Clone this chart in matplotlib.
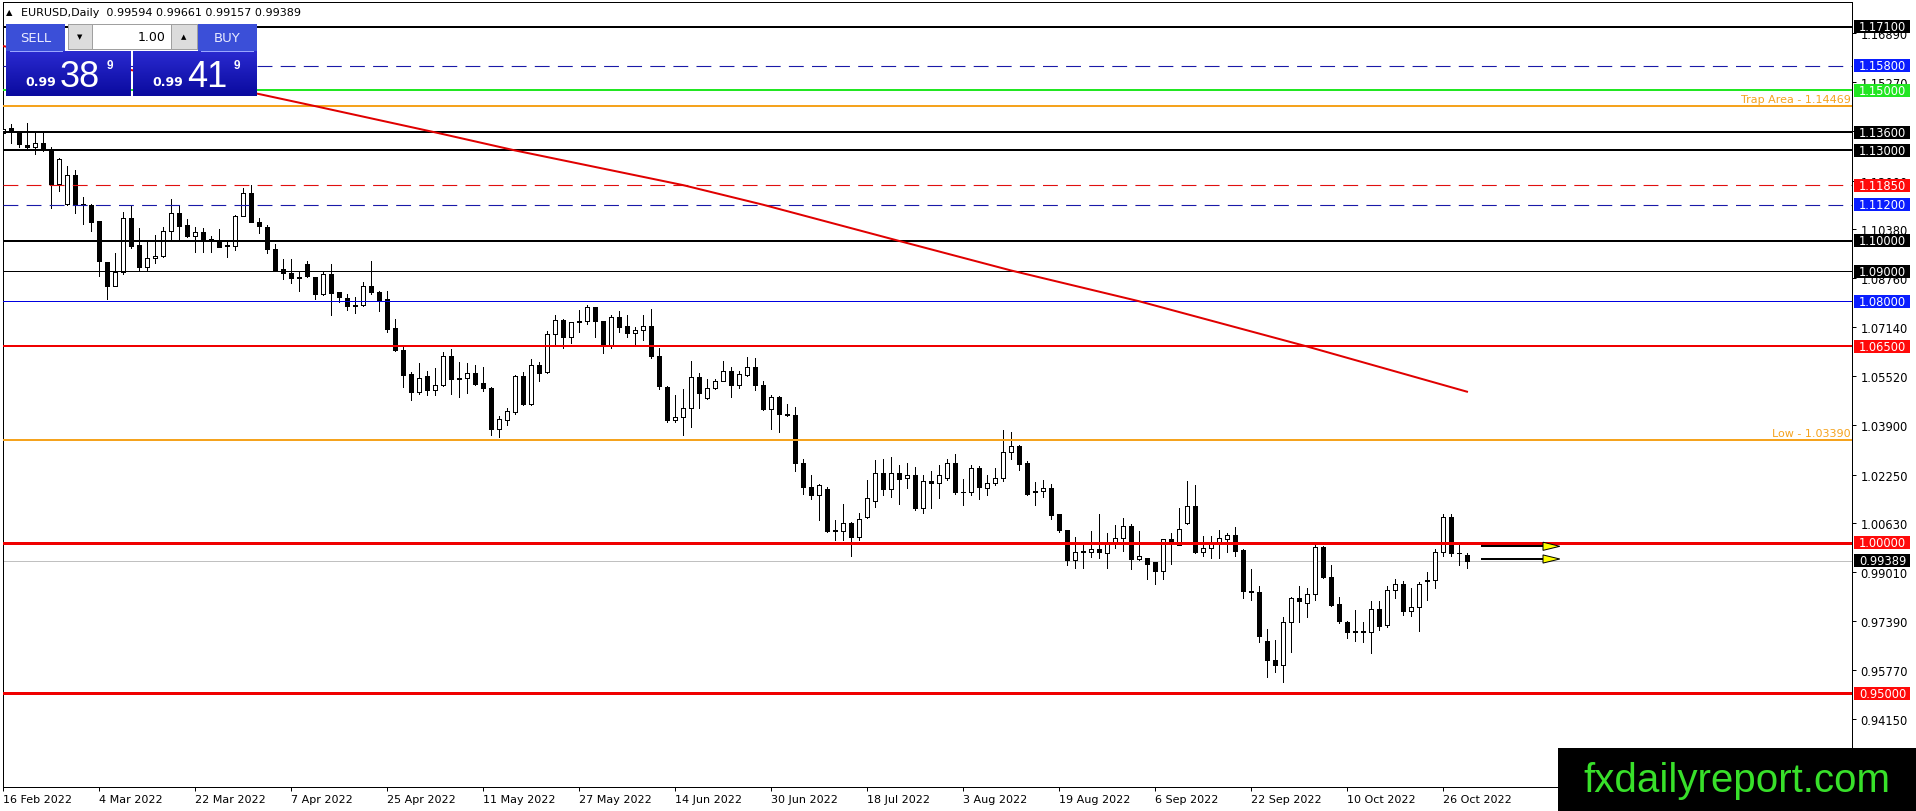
import numpy as np
import pandas as pd
import matplotlib
matplotlib.use("Agg")
import matplotlib.pyplot as plt
from matplotlib.patches import Rectangle, Polygon
from matplotlib.colors import LinearSegmentedColormap

# ---------------- data ----------------
symbol = "EURUSD,Daily"
first_day = "2022-02-16"

opens = [1.1357, 1.1373, 1.1362, 1.1319, 1.1310, 1.1324, 1.1299, 1.1190, 1.1122, 1.1218,
         1.1122, 1.1118, 1.1065, 1.0929, 1.0852, 1.0896, 1.1075, 1.0987, 1.0912, 1.0943,
         1.0950, 1.1032, 1.1092, 1.1053, 1.1017, 1.1028, 1.1006, 1.0999, 1.0986, 1.0982,
         1.1084, 1.1158, 1.1064, 1.1045, 1.0973, 1.0907, 1.0894, 1.0879, 1.0924, 1.0879,
         1.0824, 1.0891, 1.0829, 1.0810, 1.0784, 1.0786, 1.0852, 1.0832, 1.0808, 1.0711,
         1.0639, 1.0559, 1.0499, 1.0552, 1.0507, 1.0523, 1.0620, 1.0543, 1.0545, 1.0563,
         1.0530, 1.0513, 1.0377, 1.0405, 1.0432, 1.0551, 1.0460, 1.0587, 1.0565, 1.0692,
         1.0738, 1.0681, 1.0730, 1.0736, 1.0780, 1.0733, 1.0653, 1.0747, 1.0719, 1.0695,
         1.0705, 1.0717, 1.0618, 1.0517, 1.0405, 1.0416, 1.0446, 1.0548, 1.0480, 1.0512,
         1.0535, 1.0567, 1.0521, 1.0554, 1.0581, 1.0521, 1.0441, 1.0482, 1.0426, 1.0424,
         1.0265, 1.0184, 1.0159, 1.0179, 1.0043, 1.0038, 1.0066, 1.0017, 1.0083, 1.0138,
         1.0229, 1.0179, 1.0231, 1.0214, 1.0223, 1.0116, 1.0204, 1.0198, 1.0214, 1.0262,
         1.0166, 1.0168, 1.0247, 1.0181, 1.0198, 1.0214, 1.0300, 1.0320, 1.0262, 1.0166,
         1.0171, 1.0181, 1.0093, 1.0041, 0.9941, 0.9971, 0.9967, 0.9977, 0.9966, 1.0002,
         1.0015, 1.0055, 0.9945, 0.9947, 0.9934, 0.9905, 1.0010, 0.9993, 1.0066, 1.0121,
         0.9967, 0.9982, 1.0000, 1.0013, 1.0026, 0.9975, 0.9839, 0.9837, 0.9674, 0.9612,
         0.9594, 0.9737, 0.9817, 0.9801, 0.9828, 0.9986, 0.9886, 0.9795, 0.9737, 0.9704,
         0.9706, 0.9704, 0.9781, 0.9726, 0.9842, 0.9861, 0.9773, 0.9787, 0.9872, 0.9875,
         0.9969, 1.0085, 0.9966, 0.99594]
highs = [1.1395, 1.1387, 1.1365, 1.1391, 1.1365, 1.1360, 1.1310, 1.1274, 1.1247, 1.1235,
         1.1145, 1.1122, 1.1065, 1.0931, 1.0960, 1.1095, 1.1120, 1.1042, 1.0998, 1.1020,
         1.1047, 1.1139, 1.1117, 1.1073, 1.1045, 1.1042, 1.1017, 1.1040, 1.1001, 1.1086,
         1.1174, 1.1185, 1.1075, 1.1054, 1.0990, 1.0940, 1.0940, 1.0896, 1.0932, 1.0881,
         1.0896, 1.0923, 1.0831, 1.0824, 1.0813, 1.0865, 1.0935, 1.0834, 1.0835, 1.0741,
         1.0648, 1.0565, 1.0596, 1.0570, 1.0579, 1.0633, 1.0642, 1.0598, 1.0596, 1.0587,
         1.0581, 1.0515, 1.0421, 1.0446, 1.0556, 1.0565, 1.0609, 1.0598, 1.0700, 1.0753,
         1.0741, 1.0732, 1.0771, 1.0788, 1.0782, 1.0736, 1.0753, 1.0766, 1.0755, 1.0714,
         1.0753, 1.0775, 1.0644, 1.0519, 1.0488, 1.0510, 1.0603, 1.0563, 1.0543, 1.0541,
         1.0603, 1.0581, 1.0567, 1.0615, 1.0611, 1.0534, 1.0488, 1.0485, 1.0460, 1.0449,
         1.0278, 1.0225, 1.0195, 1.0184, 1.0074, 1.0126, 1.0068, 1.0099, 1.0206, 1.0273,
         1.0276, 1.0284, 1.0258, 1.0262, 1.0251, 1.0223, 1.0236, 1.0258, 1.0278, 1.0295,
         1.0212, 1.0256, 1.0254, 1.0225, 1.0247, 1.0372, 1.0367, 1.0322, 1.0269, 1.0199,
         1.0206, 1.0195, 1.0095, 1.0043, 1.0019, 0.9997, 1.0038, 1.0093, 1.0033, 1.0057,
         1.0082, 1.0060, 1.0038, 0.9950, 0.9936, 1.0013, 1.0033, 1.0115, 1.0203, 1.0190,
         1.0022, 1.0022, 1.0041, 1.0033, 1.0052, 0.9977, 0.9912, 0.9855, 0.9713, 0.9677,
         0.9754, 0.9820, 0.9856, 0.9848, 0.9997, 0.9989, 0.9927, 0.9820, 0.9739, 0.9776,
         0.9737, 0.9806, 0.9806, 0.9856, 0.9879, 0.9872, 0.9848, 0.9870, 0.9901, 0.9980,
         1.0093, 1.0096, 0.9997, 0.99661]
lows = [1.1335, 1.1326, 1.1310, 1.1306, 1.1288, 1.1299, 1.1108, 1.1167, 1.1120, 1.1092,
        1.1056, 1.1034, 1.0885, 1.0806, 1.0850, 1.0889, 1.0976, 1.0901, 1.0901, 1.0927,
        1.0948, 1.1006, 1.1001, 1.1012, 1.0962, 1.0962, 1.0962, 1.0979, 1.0946, 1.0970,
        1.1082, 1.1062, 1.1026, 1.0960, 1.0902, 1.0874, 1.0862, 1.0835, 1.0880, 1.0808,
        1.0820, 1.0755, 1.0797, 1.0770, 1.0760, 1.0784, 1.0825, 1.0769, 1.0697, 1.0635,
        1.0515, 1.0471, 1.0492, 1.0490, 1.0490, 1.0518, 1.0493, 1.0482, 1.0496, 1.0523,
        1.0501, 1.0355, 1.0350, 1.0388, 1.0427, 1.0457, 1.0457, 1.0534, 1.0563, 1.0659,
        1.0644, 1.0662, 1.0697, 1.0725, 1.0681, 1.0628, 1.0644, 1.0697, 1.0683, 1.0655,
        1.0670, 1.0611, 1.0510, 1.0401, 1.0400, 1.0357, 1.0383, 1.0446, 1.0475, 1.0510,
        1.0534, 1.0484, 1.0512, 1.0551, 1.0504, 1.0438, 1.0377, 1.0367, 1.0420, 1.0236,
        1.0162, 1.0144, 1.0074, 1.0035, 1.0008, 1.0008, 0.9956, 1.0008, 1.0080, 1.0118,
        1.0157, 1.0151, 1.0129, 1.0181, 1.0107, 1.0099, 1.0113, 1.0148, 1.0206, 1.0162,
        1.0124, 1.0157, 1.0144, 1.0159, 1.0190, 1.0203, 1.0276, 1.0240, 1.0159, 1.0124,
        1.0151, 1.0079, 1.0035, 0.9925, 0.9914, 0.9914, 0.9953, 0.9947, 0.9916, 0.9982,
        0.9971, 0.9912, 0.9941, 0.9879, 0.9864, 0.9879, 0.9930, 0.9992, 1.0060, 0.9965,
        0.9956, 0.9947, 0.9947, 0.9967, 0.9956, 0.9817, 0.9809, 0.9671, 0.9553, 0.9569,
        0.9539, 0.9638, 0.9737, 0.9754, 0.9809, 0.9881, 0.9790, 0.9732, 0.9682, 0.9673,
        0.9671, 0.9632, 0.9710, 0.9721, 0.9817, 0.9759, 0.9757, 0.9706, 0.9809, 0.9850,
        0.9955, 0.9956, 0.9927, 0.99157]
closes = [1.1372, 1.1362, 1.1320, 1.1312, 1.1324, 1.1302, 1.1190, 1.1271, 1.1218, 1.1120,
          1.1118, 1.1064, 1.0932, 1.0852, 1.0898, 1.1075, 1.0984, 1.0912, 1.0943, 1.0950,
          1.1032, 1.1092, 1.1051, 1.1017, 1.1028, 1.1001, 1.0999, 1.0981, 1.0983, 1.1084,
          1.1158, 1.1064, 1.1048, 1.0973, 1.0905, 1.0894, 1.0878, 1.0877, 1.0882, 1.0824,
          1.0889, 1.0828, 1.0813, 1.0784, 1.0787, 1.0852, 1.0832, 1.0802, 1.0708, 1.0637,
          1.0556, 1.0499, 1.0545, 1.0507, 1.0523, 1.0620, 1.0541, 1.0546, 1.0562, 1.0526,
          1.0512, 1.0377, 1.0410, 1.0436, 1.0551, 1.0460, 1.0587, 1.0562, 1.0692, 1.0738,
          1.0681, 1.0730, 1.0736, 1.0780, 1.0733, 1.0653, 1.0747, 1.0716, 1.0695, 1.0705,
          1.0717, 1.0618, 1.0518, 1.0405, 1.0416, 1.0446, 1.0548, 1.0495, 1.0512, 1.0535,
          1.0567, 1.0521, 1.0559, 1.0581, 1.0521, 1.0441, 1.0482, 1.0426, 1.0424, 1.0262,
          1.0184, 1.0159, 1.0190, 1.0038, 1.0038, 1.0063, 1.0017, 1.0079, 1.0146, 1.0229,
          1.0179, 1.0231, 1.0212, 1.0223, 1.0116, 1.0204, 1.0198, 1.0225, 1.0262, 1.0166,
          1.0168, 1.0247, 1.0184, 1.0198, 1.0214, 1.0300, 1.0320, 1.0259, 1.0162, 1.0170,
          1.0181, 1.0091, 1.0041, 0.9941, 0.9969, 0.9967, 0.9977, 0.9967, 1.0002, 1.0015,
          1.0055, 0.9945, 0.9956, 0.9930, 0.9905, 1.0010, 1.0005, 1.0046, 1.0121, 0.9967,
          0.9982, 1.0000, 1.0015, 1.0026, 0.9971, 0.9839, 0.9837, 0.9691, 0.9610, 0.9594,
          0.9737, 0.9817, 0.9806, 0.9828, 0.9986, 0.9886, 0.9792, 0.9739, 0.9704, 0.9706,
          0.9704, 0.9779, 0.9724, 0.9842, 0.9863, 0.9773, 0.9787, 0.9864, 0.9875, 0.9969,
          1.0085, 0.9964, 0.9964, 0.99389]

# moving average read at a few bars
ma_bars = [0, 32, 39, 54, 64, 85, 95, 112, 120, 126, 142, 163, 183]
ma_values = [1.1646, 1.1487, 1.1447, 1.1360, 1.1300, 1.1185, 1.1120, 1.1000,
             1.0944, 1.0902, 1.0800, 1.0650, 1.0500]

date_labels = ["16 Feb 2022", "4 Mar 2022", "22 Mar 2022", "7 Apr 2022", "25 Apr 2022",
               "11 May 2022", "27 May 2022", "14 Jun 2022", "30 Jun 2022", "18 Jul 2022",
               "3 Aug 2022", "19 Aug 2022", "6 Sep 2022", "22 Sep 2022", "10 Oct 2022",
               "26 Oct 2022"]

price_ticks = [1.16890, 1.15270, 1.13650, 1.12000, 1.10380, 1.08760, 1.07140, 1.05520,
               1.03900, 1.02250, 1.00630, 0.99010, 0.97390, 0.95770, 0.94150]

level_prices = [1.17100, 1.15800, 1.15000, 1.13600, 1.13000, 1.11850, 1.11200,
                1.10000, 1.09000, 1.08000, 1.06500, 1.00000, 0.95000]
level_kinds = ["black", "blue_dash", "green", "black", "black", "red_dash", "blue_dash",
               "black", "black_thin", "blue", "red", "red_thick", "red_thick"]

zone_prices = [1.14469, 1.03390]
zone_names = ["Trap Area", "Low"]

bid = 0.99389
ask = 0.99419
lot = "1.00"

arrow_prices = [0.99874, 0.99453]
arrow_bars = (184.75, 192.5)

# ---------------- styling ----------------
PX = 0.72  # one pixel in points at dpi 100
styles = {
    "black":      dict(color="black", lw=2 * PX, ls="-", box="black"),
    "black_thin": dict(color="black", lw=1 * PX, ls="-", box="black"),
    "blue":       dict(color="#0000e0", lw=1 * PX, ls="-", box="#0a1eff"),
    "blue_dash":  dict(color="#1a1aa8", lw=1.1 * PX, ls=(0, (13.5, 7.5)), box="#0a1eff"),
    "red":        dict(color="#f00000", lw=2 * PX, ls="-", box="#ff0a0a"),
    "red_dash":   dict(color="#e01010", lw=1.1 * PX, ls=(0, (13.5, 7.5)), box="#ff0a0a"),
    "red_thick":  dict(color="#f00000", lw=3 * PX, ls="-", box="#ff0a0a"),
    "green":      dict(color="#22e622", lw=2 * PX, ls="-", box="#22e622"),
}
ORANGE = "#f5a31e"

W, H = 1916, 812
ax_left, ax_right, ax_top, ax_bottom = 3, 1852, 3, 788
bar_px = 8
px_per_unit = 3016.0
parity_y = 543.5

fig = plt.figure(figsize=(W / 100, H / 100), dpi=100)
fig.patch.set_facecolor("white")
ax = fig.add_axes([ax_left / W, (H - ax_bottom) / H,
                   (ax_right - ax_left) / W, (ax_bottom - ax_top) / H])

n = len(closes)
x = np.arange(n)
o = np.array(opens); h = np.array(highs); l = np.array(lows); c = np.array(closes)

ax.vlines(x, l, h, color="black", linewidth=PX, zorder=2, antialiased=False)
up = c >= o
ax.bar(x, np.abs(c - o), width=0.5, bottom=np.minimum(o, c),
       color=np.where(up, "white", "black"), edgecolor="black",
       linewidth=PX, zorder=3, antialiased=False)

# horizontal levels
for p, k in zip(level_prices, level_kinds):
    st = styles[k]
    ax.axhline(p, color=st["color"], lw=st["lw"], ls=st["ls"], zorder=4)
for p, name in zip(zone_prices, zone_names):
    ax.axhline(p, color=ORANGE, lw=2 * PX, zorder=4)
    ax.text(0.9995, p + 0.0007, f"{name} - {p:.5f}", transform=ax.get_yaxis_transform(),
            ha="right", va="bottom", fontsize=8, color=ORANGE, zorder=6)
ax.axhline(bid, color="#c0c0c0", lw=PX, zorder=1)

# moving average
ax.plot(ma_bars, ma_values, color="#e00000", lw=2 * PX, zorder=5)

# arrows next to last bar
for p in arrow_prices:
    ax.plot(arrow_bars, [p, p], color="black", lw=2 * PX, zorder=6, solid_capstyle="butt")
    hx = arrow_bars[1]
    ax.add_patch(Polygon([[hx, p + 0.00135], [hx + 2.1, p], [hx, p - 0.00135]],
                         closed=True, facecolor="#ffff00", edgecolor="black",
                         lw=PX, zorder=7))

ax.set_xlim(0, (ax_right - ax_left) / bar_px)
ax.set_ylim(1 - (ax_bottom - parity_y) / px_per_unit, 1 + (parity_y - ax_top) / px_per_unit)

# axes / ticks
for s in ax.spines.values():
    s.set_linewidth(PX)
    s.set_color("black")
ax.yaxis.tick_right()
ax.set_yticks(price_ticks)
ax.set_yticklabels([f"{v:.5f}" for v in price_ticks])
ax.tick_params(axis="y", direction="out", length=3, width=PX, pad=3, labelsize=8.3)

dates = pd.bdate_range(first_day, periods=n)
tick_pos = [dates.get_loc(pd.to_datetime(d, format="%d %b %Y")) for d in date_labels]
ax.set_xticks(tick_pos)
ax.set_xticklabels(date_labels)
ax.tick_params(axis="x", direction="out", length=3, width=PX, pad=2, labelsize=8)
for lab in ax.get_xticklabels():
    lab.set_horizontalalignment("left")

# coloured price boxes on the right scale
ytr = ax.get_yaxis_transform()
span = ax_right - ax_left
bx0 = (1854 - ax_left) / span
bw = 56 / span
bh = 13 / px_per_unit
tx = (1859 - ax_left) / span
box_items = [(p, styles[k]["box"]) for p, k in zip(level_prices, level_kinds)] + [(bid, "black")]
for p, col in box_items:
    ax.add_patch(Rectangle((bx0, p - bh / 2), bw, bh, transform=ytr, facecolor=col,
                           edgecolor="none", clip_on=False, zorder=20))
    ax.text(tx, p, f"{p:.5f}", transform=ytr, ha="left", va="center", fontsize=8.3,
            color="white", clip_on=False, zorder=21)

# ---------------- overlay: header, one-click panel, watermark ----------------
ov = fig.add_axes([0, 0, 1, 1])
ov.set_zorder(10)
ov.patch.set_alpha(0)
ov.axis("off")

ov.text(6, 13, "▲", fontsize=6, va="center", ha="left", color="black")
ov.text(21, 13, f"{symbol}  {opens[-1]:.5f} {highs[-1]:.5f} {lows[-1]:.5f} {closes[-1]:.5f}",
        fontsize=8, va="center", ha="left", color="black")

btn_col = "#3b4fd8"
ov.add_patch(Rectangle((6, 25), 59, 27, facecolor=btn_col, edgecolor="none"))
ov.add_patch(Rectangle((198, 25), 59, 27, facecolor=btn_col, edgecolor="none"))
ov.plot([10, 62], [52, 52], color="#9aa6ff", lw=PX)
ov.plot([201, 253], [52, 52], color="#9aa6ff", lw=PX)
ov.text(35.5, 39, "SELL", fontsize=9.5, color="#e8eaff", ha="center", va="center")
ov.text(227.5, 39, "BUY", fontsize=9.5, color="#e8eaff", ha="center", va="center")

ov.add_patch(Rectangle((68, 25), 129, 25, facecolor="white", edgecolor="#a0a0a0", lw=PX))
ov.add_patch(Rectangle((68, 25), 24, 25, facecolor="#dcdcdc", edgecolor="#a0a0a0", lw=PX))
ov.add_patch(Rectangle((171, 25), 26, 25, facecolor="#dcdcdc", edgecolor="#a0a0a0", lw=PX))
ov.text(80, 37.5, "▼", fontsize=5, ha="center", va="center", color="black")
ov.text(184, 37.5, "▲", fontsize=5, ha="center", va="center", color="black")
ov.text(166, 37.5, lot, fontsize=9, ha="right", va="center", color="black")

grad = LinearSegmentedColormap.from_list("panel", ["#2a2ad0", "#0a0a9e"])
for x0, x1 in [(6, 131), (133, 257)]:
    ov.imshow(np.linspace(0, 1, 60).reshape(-1, 1), cmap=grad, aspect="auto",
              extent=(x0, x1, 97, 52), origin="upper", zorder=1)

def quote_parts(v):
    s = f"{v:.5f}"
    return s[:4], s[4:6], s[6]

for v, cx in [(bid, 6), (ask, 133)]:
    big, mid, small = quote_parts(v)
    ov.text(cx + 35, 82, big, fontsize=9, fontweight="bold", color="white",
            ha="center", va="center", zorder=3)
    ov.text(cx + 74, 87, mid, fontsize=26, color="white", family="Liberation Sans",
            ha="center", va="baseline", zorder=3)
    ov.text(cx + 104, 66, small, fontsize=8.5, fontweight="bold", color="white",
            family="Liberation Sans", ha="center", va="center", zorder=3)

ov.add_patch(Rectangle((1558, 749), W - 1558, H - 749, facecolor="black",
                       edgecolor="none", zorder=5))
ov.text(1737, 781, "fxdailyreport.com", fontsize=29, color="#38e02a",
        family="Liberation Sans", ha="center", va="center", zorder=6)

ov.set_xlim(0, W)
ov.set_ylim(H, 0)

fig.savefig("out.png", dpi=100)
